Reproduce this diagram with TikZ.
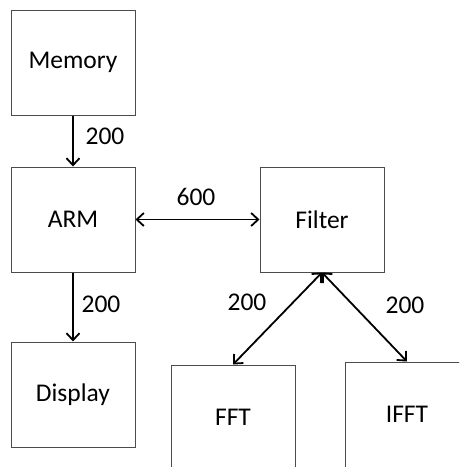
\documentclass[tikz,border=0pt]{standalone}
\usepackage{fontspec}
\setmainfont{Carlito}
\usetikzlibrary{arrows.meta, positioning}

\begin{document}
\begin{tikzpicture}[x=1pt, y=-1pt,
    block/.style={rectangle, draw=black!70, line width=1pt, minimum width=124pt, minimum height=105pt, font=\fontsize{25.5}{30}\selectfont},
    rate/.style={font=\fontsize{25.5}{30}\selectfont},
    link/.style={line width=1.8pt, {Straight Barb[length=7pt, width=13pt]}-{Straight Barb[length=7pt, width=13pt]}},
    onelink/.style={line width=1.8pt, -{Straight Barb[length=7pt, width=13pt]}}]
    \clip (0,0) rectangle (459,467);

    % blocks
    \node[block] (mem) at (73, 62.5) {Memory};
    \node[block] (arm) at (73, 219.5) {ARM};
    \node[block] (disp) at (73, 394.5) {Display};
    \node[block] (filt) at (322, 219.5) {Filter};
    \node[block] (fft) at (233, 417.5) {FFT};
    \node[block] (ifft) at (407, 414.5) {IFFT};

    % data paths
    \draw[onelink] (mem) -- (arm);
    \draw[onelink] (arm) -- (disp);
    \draw[link] (arm) -- (filt);
    \draw[link] (filt.south) -- (fft.north);
    \draw[link] (filt.south) -- (ifft.north);

    % rates
    \node[rate] (r1) at (105, 136) {200};
    \node[rate] (r2) at (101, 304) {200};
    \node[rate] (r3) at (196, 197) {600};
    \node[rate] (r4) at (247, 302) {200};
    \node[rate] (r5) at (405, 305) {200};
\end{tikzpicture}
\end{document}
